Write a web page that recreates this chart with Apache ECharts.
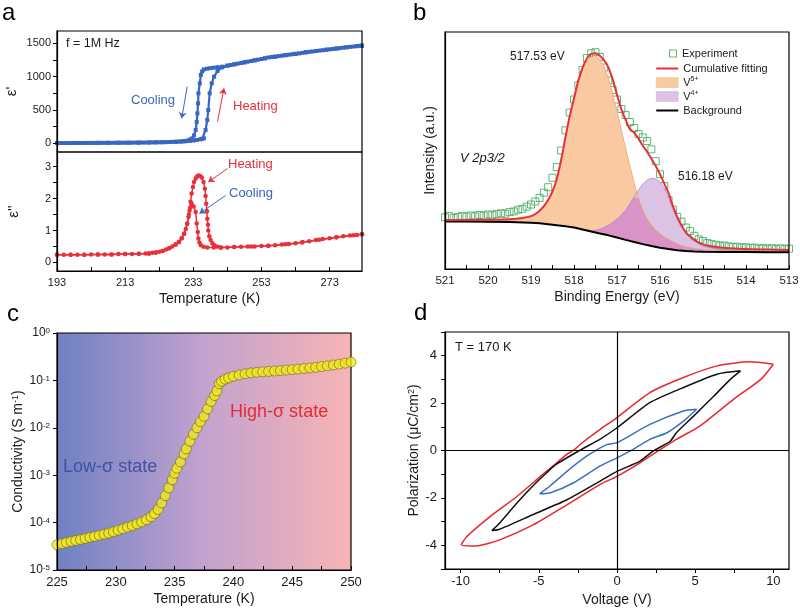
<!DOCTYPE html>
<html><head><meta charset="utf-8">
<script src="https://cdn.jsdelivr.net/npm/echarts@6/dist/echarts.min.js"></script>
<style>html,body{margin:0;padding:0;background:#fff}#c{width:800px;height:610px}</style>
</head><body><div id="c"></div>
<script>
// ---------- Panel a: dielectric constant ----------
const A_X_LABELS = [193, 213, 233, 253, 273];
const A_X_TICKS = [193, 203, 213, 223, 233, 243, 253, 263, 273];
const A1_Y_LABELS = [0, 500, 1000, 1500];
const A1_Y_TICKS = [0, 250, 500, 750, 1000, 1250, 1500];
const A2_Y_LABELS = [0, 1, 2, 3];
const A2_Y_TICKS = [0, 0.5, 1, 1.5, 2, 2.5, 3];

const HEAT_EPS1 = [[193,4],[194,4],[195,4],[196,5],[197,5],[198,5],[199,5],[200,5],[201,6],[202,6],[203,6],[204,6],[205,7],[206,7],[207,7],[208,8],[209,8],[210,8],[211,9],[212,9],[213,9],[214,10],[215,10],[216,11],[217,11],[218,12],[219,12],[220,13],[221,14],[222,15],[223,16],[224,17],[225,18],[226,20],[227,22],[228,24],[229,27],[230,30],[231,33],[232,37],[233,42],[234,50],[235,60],[235.6,68],[236.1,75],[236.6,200],[237.1,350],[237.4,500],[237.8,750],[238.4,900],[239.1,1000],[240.1,1085],[241.5,1140],[243,1165],[244,1175],[245,1185],[246,1195],[247,1205],[248,1215],[249,1225],[250,1235],[251,1245],[252,1255],[253,1265],[254,1275],[255,1288],[256,1295],[257,1300],[258,1308],[259,1315],[260,1322],[261,1329],[262,1336],[263,1342],[264,1349],[265,1357],[266,1365],[267,1372],[268,1378],[269,1385],[270,1391],[271,1397],[272,1404],[273,1410],[274,1416],[275,1422],[276,1428],[277,1435],[278,1441],[279,1447],[280,1452],[281,1458],[282,1463],[282.5,1465]];
const COOL_EPS1 = [[193,4],[196,5],[199,5],[202,6],[205,7],[208,8],[211,9],[214,10],[217,11],[220,13],[222,15],[224,17],[226,20],[228,24],[229.5,28],[230.5,33],[231.3,42],[232.0,58],[232.7,75],[233.2,120],[233.7,200],[234.0,320],[234.2,450],[234.4,600],[234.5,750],[234.9,900],[235.2,1025],[235.6,1080],[236.1,1110],[237,1120],[238,1128],[239,1135],[240.1,1142],[241.5,1150],[243,1165],[245,1185],[248,1215],[251,1245],[254,1275],[257,1300],[260,1322],[263,1342],[266,1365],[269,1385],[272,1404],[275,1422],[278,1441],[281,1458],[282.5,1465]];
const HEAT_EPS2 = [[193,0.24],[195,0.24],[197,0.24],[199,0.24],[201,0.24],[203,0.25],[205,0.25],[207,0.25],[209,0.25],[211,0.26],[213,0.26],[215,0.26],[217,0.27],[219,0.28],[220,0.28],[221,0.3],[222,0.31],[223,0.33],[224,0.36],[225,0.4],[225.9,0.44],[226.8,0.5],[227.8,0.56],[228.8,0.64],[229.6,0.76],[230.3,0.9],[230.8,1.05],[231.2,1.22],[231.6,1.42],[231.9,1.63],[232.2,1.9],[232.5,2.16],[232.9,2.36],[233.2,2.52],[233.7,2.63],[234.1,2.69],[234.5,2.72],[235,2.71],[235.5,2.66],[236,2.52],[236.4,2.31],[236.6,2.08],[236.8,1.84],[237,1.6],[237.1,1.37],[237.3,1.18],[237.4,1.0],[237.7,0.82],[238.1,0.7],[238.6,0.6],[239.1,0.54],[240,0.5],[241.1,0.47],[243,0.47],[245,0.48],[247,0.49],[249,0.5],[251,0.5],[253,0.51],[255,0.52],[257,0.54],[259,0.56],[261,0.58],[263,0.6],[265,0.63],[267,0.66],[269,0.7],[271,0.73],[273,0.76],[275,0.79],[277,0.82],[279,0.84],[281,0.86],[282.5,0.88]];
const COOL_EPS2 = [[193,0.24],[197,0.24],[201,0.24],[205,0.25],[209,0.25],[213,0.26],[217,0.27],[220,0.28],[222,0.31],[224,0.36],[225.9,0.44],[227.8,0.56],[228.8,0.64],[229.6,0.76],[230.3,0.9],[231.2,1.2],[231.7,1.5],[232.1,1.72],[232.5,1.84],[233.1,1.75],[233.7,1.58],[234.0,1.22],[234.3,0.95],[234.5,0.75],[234.8,0.62],[235.2,0.54],[236,0.49],[237.1,0.47],[239,0.47],[241,0.47],[245,0.48],[250,0.5],[255,0.52],[260,0.57],[265,0.63],[270,0.71],[275,0.79],[280,0.85],[282.5,0.88]];

// ---------- Panel b: XPS ----------
const B_X_LABELS = [513, 514, 515, 516, 517, 518, 519, 520, 521];
const B_X_TICKS = [513, 513.5, 514, 514.5, 515, 515.5, 516, 516.5, 517, 517.5, 518, 518.5, 519, 519.5, 520, 520.5, 521];
const EXP_E = [521.0,520.9,520.8,520.7,520.6,520.5,520.4,520.3,520.2,520.1,520.0,519.9,519.8,519.7,519.6,519.5,519.4,519.3,519.2,519.1,519.0,518.9,518.8,518.7,518.6,518.5,518.4,518.3,518.2,518.1,518.0,517.9,517.8,517.7,517.6,517.5,517.4,517.3,517.2,517.1,517.0,516.9,516.8,516.7,516.6,516.5,516.4,516.3,516.2,516.1,516.0,515.9,515.8,515.7,515.6,515.5,515.4,515.3,515.2,515.1,515.0,514.9,514.8,514.7,514.6,514.5,514.4,514.3,514.2,514.1,514.0,513.9,513.8,513.7,513.6,513.5,513.4,513.3,513.2,513.1,513.0];
const EXP_I = [21.8,22.3,21.6,22.0,22.4,22.1,22.6,22.2,22.8,22.5,23.0,22.7,23.2,23.5,23.3,24.0,24.3,25.0,25.4,26.3,27.2,28.5,30.0,32.2,34.5,38.5,43.0,50.0,58.5,66.0,71.5,77.5,84.0,89.0,91.0,91.5,89.5,85.0,79.5,75.5,71.5,67.5,65.0,62.0,59.5,57.0,55.5,54.0,50.5,45.5,40.0,35.0,29.0,25.0,22.0,20.0,17.5,16.0,14.0,12.5,11.8,11.0,10.5,10.2,9.8,9.9,9.5,9.3,9.4,9.0,9.2,8.8,9.0,8.6,8.8,8.5,8.8,8.4,8.7,8.5,8.6];
const FIT_CUM = [[521.0,20.6],[520.5,20.7],[520.0,20.8],[519.5,21.0],[519.2,21.5],[519.0,22.3],[518.9,23.2],[518.8,24.6],[518.7,26.5],[518.6,29.2],[518.5,32.8],[518.4,38.0],[518.3,46.0],[518.2,55.5],[518.1,64.5],[518.0,72.0],[517.9,79.5],[517.8,85.0],[517.7,88.8],[517.6,90.8],[517.5,91.0],[517.4,90.0],[517.3,88.0],[517.2,85.0],[517.1,80.0],[517.0,73.5],[516.9,67.5],[516.8,63.0],[516.7,59.0],[516.6,57.5],[516.5,55.0],[516.4,52.0],[516.3,49.5],[516.2,46.5],[516.1,43.5],[516.0,40.0],[515.9,36.0],[515.8,32.0],[515.7,26.5],[515.6,22.0],[515.5,18.5],[515.4,15.5],[515.3,13.8],[515.2,12.3],[515.1,11.2],[515.0,10.4],[514.8,9.6],[514.6,9.1],[514.4,8.8],[514.0,8.4],[513.5,8.2],[513.0,8.0]];
const FIT_V5 = [[521.0,20.2],[520.5,20.3],[520.0,20.4],[519.5,20.6],[519.2,21.1],[519.0,21.9],[518.9,22.8],[518.8,24.2],[518.7,26.1],[518.6,28.8],[518.5,32.4],[518.4,37.6],[518.3,45.6],[518.2,55.0],[518.1,64.0],[518.0,71.3],[517.9,78.5],[517.8,84.0],[517.7,87.5],[517.6,89.5],[517.5,90.0],[517.4,88.5],[517.3,85.5],[517.2,80.5],[517.1,74.0],[517.0,66.5],[516.9,58.8],[516.8,51.0],[516.7,43.5],[516.6,36.3],[516.5,29.8],[516.4,24.8],[516.3,21.2],[516.2,18.5],[516.1,16.5],[516.0,15.0],[515.9,13.5],[515.8,12.5],[515.7,11.5],[515.6,10.6],[515.5,9.9],[515.3,9.0],[515.0,8.2],[514.5,7.8],[514.0,7.5],[513.0,7.3]];
const FIT_V4 = [[517.8,16.7],[517.7,16.4],[517.6,16.2],[517.5,16.3],[517.4,16.8],[517.3,17.5],[517.2,18.5],[517.1,19.6],[517.0,21.0],[516.9,22.8],[516.8,24.8],[516.7,27.5],[516.6,30.5],[516.5,33.3],[516.4,35.8],[516.3,37.5],[516.2,38.3],[516.1,38.0],[516.0,36.8],[515.9,34.2],[515.8,30.0],[515.7,25.3],[515.6,21.0],[515.5,17.5],[515.3,12.8],[515.0,9.6],[514.5,7.8],[514.0,7.3],[513.0,7.1]];
const FIT_BG = [[521.0,20.0],[520.5,20.0],[520.0,19.9],[519.5,19.8],[519.0,19.5],[518.8,19.3],[518.5,18.7],[518.2,18.0],[518.0,17.5],[517.8,16.7],[517.6,15.8],[517.4,15.0],[517.2,14.2],[517.0,13.3],[516.8,12.3],[516.6,11.4],[516.4,10.5],[516.2,9.7],[516.0,9.0],[515.8,8.4],[515.6,7.9],[515.4,7.6],[515.2,7.4],[515.0,7.3],[514.5,7.2],[514.0,7.2],[513.5,7.1],[513.0,7.1]];

// ---------- Panel c: conductivity ----------
const C_X_LABELS = [225, 230, 235, 240, 245, 250];
const C_X_TICKS = [225, 227.5, 230, 232.5, 235, 237.5, 240, 242.5, 245, 247.5, 250];
const COND_T = [225.0,225.4,225.8,226.2,226.6,227.0,227.4,227.8,228.2,228.6,229.0,229.4,229.8,230.2,230.6,231.0,231.4,231.8,232.2,232.6,233.0,233.3,233.6,233.9,234.2,234.5,234.8,235.0,235.2,235.5,235.8,236.0,236.3,236.6,236.9,237.2,237.5,237.8,238.1,238.4,238.6,238.8,239.0,239.3,239.6,240.0,240.5,241.0,241.5,242.0,242.5,243.0,243.5,244.0,244.5,245.0,245.5,246.0,246.5,247.0,247.5,248.0,248.5,249.0,249.5,250.0];
const COND_S = [3.4e-5,3.6e-5,3.8e-5,4.0e-5,4.2e-5,4.4e-5,4.6e-5,4.9e-5,5.1e-5,5.4e-5,5.7e-5,6.0e-5,6.4e-5,6.9e-5,7.4e-5,8.0e-5,8.6e-5,9.4e-5,1.03e-4,1.15e-4,1.33e-4,1.55e-4,1.9e-4,2.6e-4,3.7e-4,5.4e-4,8.0e-4,1.1e-3,1.4e-3,1.9e-3,2.8e-3,3.6e-3,5.2e-3,7.3e-3,1.0e-2,1.35e-2,1.75e-2,2.5e-2,3.6e-2,4.8e-2,6.0e-2,8.5e-2,9.6e-2,0.106,0.113,0.122,0.130,0.138,0.144,0.148,0.152,0.155,0.158,0.161,0.165,0.169,0.173,0.178,0.183,0.189,0.196,0.203,0.211,0.220,0.231,0.243];

// ---------- Panel d: P-E loops ----------
const D_X_LABELS = [-10, -5, 0, 5, 10];
const D_X_TICKS = [-10, -7.5, -5, -2.5, 0, 2.5, 5, 7.5, 10];
const D_Y_LABELS = [-4, -2, 0, 2, 4];
const D_Y_TICKS = [-5, -4, -3, -2, -1, 0, 1, 2, 3, 4, 5];
const LOOP_10V = [[10,3.64],[8.5,3.74],[6.4,3.57],[4.25,3.08],[2.1,2.44],[0,1.39],[-1.1,0.88],[-2.16,0.36],[-2.8,0.0],[-3.2,-0.15],[-4.0,-0.6],[-4.9,-1.09],[-6.4,-1.94],[-8.1,-2.78],[-9.6,-3.63],[-9.96,-3.98],[-9.0,-4.03],[-7.5,-3.77],[-5.37,-3.14],[-3.2,-2.29],[-1.1,-1.44],[0,-1.09],[1.47,-0.52],[2.76,0.04],[3.8,0.47],[5.3,1.03],[7.45,2.16],[9.2,3.0],[10,3.64]];
const LOOP_8V = [[7.9,3.36],[6.4,3.22],[4.25,2.66],[2.1,2.02],[0,0.96],[-1.1,0.47],[-2.4,0.0],[-3.9,-0.59],[-4.5,-0.94],[-5.4,-1.51],[-6.4,-2.22],[-7.5,-3.06],[-8.0,-3.38],[-7.5,-3.32],[-5.4,-2.71],[-3.2,-2.08],[-1.1,-1.3],[0,-0.88],[1.47,-0.45],[2.3,-0.03],[3.4,0.39],[3.8,0.75],[4.9,1.45],[6.2,2.3],[7.25,3.0],[7.9,3.36]];
const LOOP_5V = [[5.1,1.74],[4.25,1.67],[2.1,1.1],[0,0.33],[-0.66,0.25],[-1.94,-0.24],[-3.2,-0.88],[-4.3,-1.51],[-4.94,-1.82],[-4.3,-1.79],[-2.8,-1.37],[-1.1,-0.66],[0,-0.31],[0.83,-0.03],[2.1,0.47],[3.2,0.75],[4.25,1.24],[5.1,1.74]];

// ---------- build ----------
const FONT = '"Liberation Sans", Arial, Helvetica, sans-serif';
const BLUE = '#3767c2', RED = '#e8303a', INK = '#1a1a1a', GREEN = '#3aa655';
const SUP = {fontSize: 8, verticalAlign: 'top', lineHeight: 8, fontFamily: FONT, color: INK};
const zip = (xs, ys) => xs.map((x, i) => [x, ys[i]]);
const v5map = new Map(FIT_V5.map(p => [p[0], p[1]]));
const OVERLAP = FIT_V4.map(p => [p[0], Math.min(p[1], v5map.has(p[0]) ? v5map.get(p[0]) : p[1])]);
const plain = v => String(v);
const LINE_ICON = 'path://M0,0 L22,0 L22,2 L0,2 Z';
const HOLLOW_SQ = 'path://M0,0 L8,0 L8,8 L0,8 Z M1,1 L1,7 L7,7 L7,1 Z';

function ax(o) {
  const base = {
    axisLine: {show: true, onZero: false, lineStyle: {color: '#000', width: 1.2}},
    axisTick: {show: true, inside: false, length: 4, lineStyle: {color: '#000', width: 1}},
    axisLabel: {show: true, color: INK, fontSize: 12, fontFamily: FONT, margin: 6, formatter: plain},
    splitLine: {show: false},
    nameLocation: 'middle',
    nameMoveOverlap: false,
    nameTextStyle: {color: INK, fontSize: 14, fontFamily: FONT},
    z: 6
  };
  const r = Object.assign({}, base, o);
  ['axisLine', 'axisTick', 'axisLabel', 'nameTextStyle'].forEach(k => {
    if (o[k]) r[k] = Object.assign({}, base[k], o[k]);
  });
  return r;
}
const gridBase = {show: true, borderColor: '#000', borderWidth: 1.2, backgroundColor: 'transparent', containLabel: false, outerBoundsMode: 'none', z: 5};

const option = {
  animation: false,
  backgroundColor: '#fff',
  textStyle: {fontFamily: FONT},
  grid: [
    Object.assign({}, gridBase, {left: 57, top: 31, width: 305, height: 121}),
    Object.assign({}, gridBase, {left: 57, top: 152, width: 305, height: 119}),
    Object.assign({}, gridBase, {left: 445, top: 32, width: 344, height: 237}),
    Object.assign({}, gridBase, {left: 57, top: 333, width: 294, height: 237, z: 0,
      backgroundColor: new echarts.graphic.LinearGradient(0, 0, 1, 0, [
        {offset: 0, color: '#6f80c2'}, {offset: 0.5, color: '#c3a2cf'}, {offset: 1, color: '#f7b4b4'}])}),
    Object.assign({}, gridBase, {left: 445, top: 332, width: 344, height: 237})
  ],
  xAxis: [
    ax({gridIndex: 0, type: 'value', min: 193, max: 282.5, axisLine: {show: false}, axisTick: {show: false}, axisLabel: {show: false}}),
    ax({gridIndex: 1, type: 'value', min: 193, max: 282.5, name: 'Temperature (K)', nameGap: 21,
        axisTick: {inside: true, customValues: A_X_TICKS}, axisLabel: {customValues: A_X_LABELS, fontSize: 11}}),
    ax({gridIndex: 2, type: 'value', min: 513, max: 521, inverse: true, name: 'Binding Energy (eV)', nameGap: 21,
        axisTick: {inside: true, customValues: B_X_TICKS}, axisLabel: {customValues: B_X_LABELS, fontSize: 11.5}}),
    ax({gridIndex: 3, type: 'value', min: 225, max: 250, name: 'Temperature (K)', nameGap: 22,
        axisTick: {inside: true, customValues: C_X_TICKS}, axisLabel: {customValues: C_X_LABELS, fontSize: 13}}),
    ax({gridIndex: 4, type: 'value', min: -11, max: 11, name: 'Voltage (V)', nameGap: 24,
        axisTick: {customValues: D_X_TICKS}, axisLabel: {customValues: D_X_LABELS, fontSize: 13}})
  ],
  yAxis: [
    ax({gridIndex: 0, type: 'value', min: -130, max: 1685, name: "ε'", nameRotate: 90, nameGap: 38,
        nameTextStyle: {fontSize: 15},
        axisTick: {customValues: A1_Y_TICKS}, axisLabel: {customValues: A1_Y_LABELS, fontSize: 11}}),
    ax({gridIndex: 1, type: 'value', min: -0.27, max: 3.46, name: "ε''", nameRotate: 90, nameGap: 36,
        nameTextStyle: {fontSize: 15},
        axisTick: {customValues: A2_Y_TICKS}, axisLabel: {customValues: A2_Y_LABELS, fontSize: 11}}),
    ax({gridIndex: 2, type: 'value', min: 0, max: 100, name: 'Intensity (a.u.)', nameRotate: 90, nameGap: 8,
        axisTick: {show: false}, axisLabel: {show: false}}),
    ax({gridIndex: 3, type: 'log', logBase: 10, min: 1e-5, max: 1, name: 'Conductivity (S m{s|-1})', nameRotate: 90, nameGap: 32,
        nameTextStyle: {rich: {s: Object.assign({}, SUP, {fontSize: 9, lineHeight: 9})}},
        axisLabel: {formatter: v => '10{s|' + Math.round(Math.log10(v)) + '}', rich: {s: SUP}, margin: 7}}),
    ax({gridIndex: 4, type: 'value', min: -5, max: 5, name: 'Polarization (μC/cm{s|2})', nameRotate: 90, nameGap: 24,
        nameTextStyle: {rich: {s: Object.assign({}, SUP, {fontSize: 9, lineHeight: 9})}},
        axisTick: {customValues: D_Y_TICKS}, axisLabel: {customValues: D_Y_LABELS, margin: 8, fontSize: 13}})
  ],
  legend: [
    {data: [{name: 'Experiment', icon: HOLLOW_SQ, itemStyle: {color: GREEN, borderWidth: 0}}],
     left: 664, top: 43, orient: 'vertical', itemWidth: 8, itemHeight: 8, selectedMode: false,
     textStyle: {fontSize: 11, color: INK, fontFamily: FONT}},
    {data: [
       {name: 'Cumulative fitting', icon: LINE_ICON, itemStyle: {color: RED, borderWidth: 0}},
       {name: 'V5+', icon: 'rect', itemStyle: {color: '#f9c9a2', borderColor: '#efb888', borderWidth: 0.5}},
       {name: 'V4+', icon: 'rect', itemStyle: {color: '#dcc3e3', borderColor: '#cbb0d6', borderWidth: 0.5}},
       {name: 'Background', icon: LINE_ICON, itemStyle: {color: '#000', borderWidth: 0}}],
     left: 651, top: 57, orient: 'vertical', itemWidth: 22, itemHeight: 10, itemGap: 1, selectedMode: false,
     formatter: n => n === 'V5+' ? 'V{sup|5+}' : (n === 'V4+' ? 'V{sup|4+}' : n),
     textStyle: {fontSize: 11, color: INK, fontFamily: FONT, lineHeight: 13, rich: {sup: {fontSize: 7, verticalAlign: 'top', lineHeight: 7, color: INK}}}}
  ],
  series: [
    // panel a top
    {name: 'eps1 heating', type: 'line', xAxisIndex: 0, yAxisIndex: 0, data: HEAT_EPS1,
     symbol: 'rect', symbolSize: 4, lineStyle: {color: BLUE, width: 2.2}, itemStyle: {color: BLUE},
     markLine: {silent: true, symbol: ['none', 'arrow'], symbolSize: 6, label: {show: false},
       data: [
         [{coord: [231.2, 849]}, {coord: [229.6, 375], lineStyle: {color: BLUE, width: 1, type: 'solid'}}],
         [{coord: [240.1, 324]}, {coord: [242.0, 825], lineStyle: {color: RED, width: 1, type: 'solid'}}]
       ]}},
    {name: 'eps1 cooling', type: 'line', xAxisIndex: 0, yAxisIndex: 0, data: COOL_EPS1,
     symbol: 'rect', symbolSize: 4, lineStyle: {color: BLUE, width: 2.2}, itemStyle: {color: BLUE}},
    // panel a bottom
    {name: 'eps2 heating', type: 'line', xAxisIndex: 1, yAxisIndex: 1, data: HEAT_EPS2,
     symbol: 'circle', symbolSize: 4.5, lineStyle: {color: RED, width: 1.5}, itemStyle: {color: RED},
     markLine: {silent: true, symbol: ['none', 'arrow'], symbolSize: 6, label: {show: false},
       data: [
         [{coord: [243.0, 2.94]}, {coord: [237.4, 2.52], lineStyle: {color: RED, width: 1, type: 'solid'}}],
         [{coord: [242.5, 2.10]}, {coord: [234.8, 1.53], lineStyle: {color: BLUE, width: 1, type: 'solid'}}]
       ]}},
    {name: 'eps2 cooling', type: 'line', xAxisIndex: 1, yAxisIndex: 1, data: COOL_EPS2,
     symbol: 'circle', symbolSize: 4.5, lineStyle: {color: RED, width: 1.5}, itemStyle: {color: RED}},
    // panel b
    {name: 'V5+', type: 'line', xAxisIndex: 2, yAxisIndex: 2, data: FIT_V5, symbol: 'none', color: '#f9c9a2',
     lineStyle: {color: '#eea46a', width: 0.8}, areaStyle: {color: '#f9c9a2', opacity: 1}},
    {name: 'V4+', type: 'line', xAxisIndex: 2, yAxisIndex: 2, data: FIT_V4, symbol: 'none', color: '#dcc3e3',
     lineStyle: {color: '#b488c4', width: 0.8}, areaStyle: {color: '#dcc3e3', opacity: 1}},
    {name: 'overlap', type: 'line', xAxisIndex: 2, yAxisIndex: 2, data: OVERLAP, symbol: 'none',
     lineStyle: {width: 0}, areaStyle: {color: '#d993c6', opacity: 1}},
    {name: 'Background', type: 'line', xAxisIndex: 2, yAxisIndex: 2, data: FIT_BG, symbol: 'none', color: '#000',
     lineStyle: {color: '#000', width: 2}, areaStyle: {color: '#fff', opacity: 1}},
    {name: 'Cumulative fitting', type: 'line', xAxisIndex: 2, yAxisIndex: 2, data: FIT_CUM, symbol: 'none', smooth: 0.3,
     color: RED, lineStyle: {color: RED, width: 2}},
    {name: 'Experiment', type: 'scatter', xAxisIndex: 2, yAxisIndex: 2, data: zip(EXP_E, EXP_I), symbol: 'rect', symbolSize: 7,
     color: GREEN, itemStyle: {color: 'rgba(0,0,0,0)', borderColor: GREEN, borderWidth: 1}},
    // panel c
    {name: 'sigma', type: 'scatter', xAxisIndex: 3, yAxisIndex: 3, data: zip(COND_T, COND_S), symbol: 'circle', symbolSize: 10,
     itemStyle: {color: '#f3e91e', borderColor: '#6e6a1c', borderWidth: 0.8}},
    // panel d
    {name: '10 V', type: 'line', xAxisIndex: 4, yAxisIndex: 4, data: LOOP_10V, symbol: 'none', smooth: 0.2,
     lineStyle: {color: '#e8262e', width: 1.5},
     markLine: {silent: true, symbol: 'none', label: {show: false}, lineStyle: {color: '#000', width: 1.2, type: 'solid'},
       data: [{xAxis: 0}, {yAxis: 0}]}},
    {name: '8 V', type: 'line', xAxisIndex: 4, yAxisIndex: 4, data: LOOP_8V, symbol: 'none', smooth: 0.2,
     lineStyle: {color: '#111', width: 1.5}},
    {name: '5 V', type: 'line', xAxisIndex: 4, yAxisIndex: 4, data: LOOP_5V, symbol: 'none', smooth: 0.2,
     lineStyle: {color: '#3a6fc0', width: 1.5}}
  ],
  graphic: {elements: [
    {type: 'text', style: {x: 2, y: 13, text: 'a', fill: '#000', font: '24px ' + FONT, textVerticalAlign: 'middle'}},
    {type: 'text', style: {x: 413, y: 13, text: 'b', fill: '#000', font: '24px ' + FONT, textVerticalAlign: 'middle'}},
    {type: 'text', style: {x: 7, y: 314, text: 'c', fill: '#000', font: '24px ' + FONT, textVerticalAlign: 'middle'}},
    {type: 'text', style: {x: 414, y: 313, text: 'd', fill: '#000', font: '24px ' + FONT, textVerticalAlign: 'middle'}},
    {type: 'text', style: {x: 66, y: 44, text: 'f = 1M Hz', fill: INK, font: '12.5px ' + FONT, textVerticalAlign: 'middle'}},
    {type: 'text', style: {x: 131, y: 100, text: 'Cooling', fill: BLUE, font: '13px ' + FONT, textVerticalAlign: 'middle'}},
    {type: 'text', style: {x: 233, y: 106, text: 'Heating', fill: RED, font: '13px ' + FONT, textVerticalAlign: 'middle'}},
    {type: 'text', style: {x: 228, y: 164, text: 'Heating', fill: RED, font: '13px ' + FONT, textVerticalAlign: 'middle'}},
    {type: 'text', style: {x: 229, y: 193, text: 'Cooling', fill: BLUE, font: '13px ' + FONT, textVerticalAlign: 'middle'}},
    {type: 'text', style: {x: 510, y: 57, text: '517.53 eV', fill: INK, font: '12px ' + FONT, textVerticalAlign: 'middle'}},
    {type: 'text', style: {x: 678, y: 177, text: '516.18 eV', fill: INK, font: '12px ' + FONT, textVerticalAlign: 'middle'}},
    {type: 'text', style: {x: 460, y: 158, text: 'V 2p3/2', fill: INK, font: 'italic 13px ' + FONT, textVerticalAlign: 'middle'}},
    {type: 'text', style: {x: 63, y: 467, text: 'Low-σ state', fill: '#4251a3', font: '18px ' + FONT, textVerticalAlign: 'middle'}},
    {type: 'text', style: {x: 230, y: 412, text: 'High-σ state', fill: '#e42b36', font: '18px ' + FONT, textVerticalAlign: 'middle'}},
    {type: 'text', style: {x: 455, y: 347, text: 'T = 170 K', fill: INK, font: '13px ' + FONT, textVerticalAlign: 'middle'}}
  ]}
};
const chart = echarts.init(document.getElementById('c'), null, {renderer: 'canvas'});
chart.setOption(option);
</script></body></html>
